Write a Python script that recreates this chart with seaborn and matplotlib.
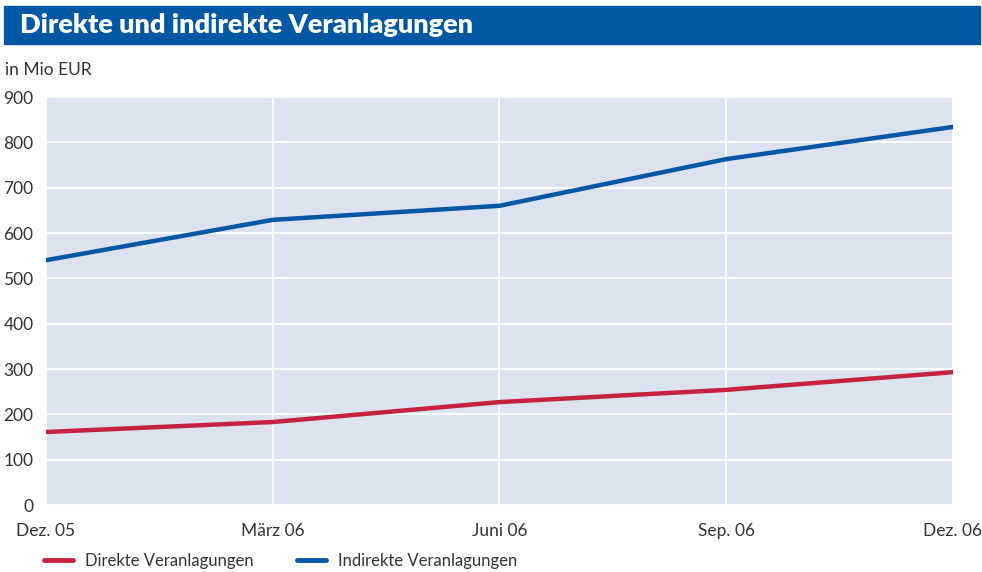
import pandas as pd
import numpy as np
import matplotlib.pyplot as plt
import seaborn as sns
from matplotlib.patches import Rectangle

# data
quarters = ['Dez. 05', 'März 06', 'Juni 06', 'Sep. 06', 'Dez. 06']
direkt = [161, 183, 227, 254, 293]
indirekt = [540, 629, 660, 763, 834]
series_names = ['Direkte Veranlagungen', 'Indirekte Veranlagungen']

df = pd.DataFrame({
    'quarter': list(range(len(quarters))) * 2,
    'value': direkt + indirekt,
    'series': [series_names[0]] * len(quarters) + [series_names[1]] * len(quarters),
})

sns.set_style('whitegrid', {'axes.facecolor': '#dce2ef', 'grid.color': 'white',
                            'axes.edgecolor': '#dce2ef'})
plt.rcParams['font.family'] = ['Lato', 'DejaVu Sans']

fig = plt.figure(figsize=(9.82, 5.72), dpi=100)
ax = fig.add_axes([46 / 982, 1 - 505 / 572, 907 / 982, 408 / 572])

sns.lineplot(data=df, x='quarter', y='value', hue='series', ax=ax,
             palette=['#c4223f', '#0057a3'], linewidth=3.2, legend=False)

ax.set_xlim(0, len(quarters) - 1)
ax.set_ylim(0, 900)
ax.set_yticks(np.arange(0, 901, 100))
ax.set_xticks(range(len(quarters)))
ax.set_xticklabels(quarters)
ax.set_xlabel('')
ax.set_ylabel('')
ax.grid(True, color='white', linewidth=1.3)
ax.tick_params(axis='both', length=0, labelsize=12.5, labelcolor='#333333')
ax.tick_params(axis='y', pad=9)
ax.tick_params(axis='x', pad=13)
for s in ax.spines.values():
    s.set_visible(False)

# title band
fig.patches.append(Rectangle((4 / 982, 1 - 44 / 572), 976 / 982, 38 / 572,
                             transform=fig.transFigure, color='#0057a3', zorder=0))
fig.text(20 / 982, 1 - 25 / 572, 'Direkte und indirekte Veranlagungen', color='white',
         fontsize=19.5, fontweight='heavy', va='center', ha='left')
fig.text(5 / 982, 1 - 70 / 572, 'in Mio EUR', fontsize=12.5, color='#333333', va='center')

# legend
handles = [plt.Line2D([], [], color=c, linewidth=3.5) for c in ['#c4223f', '#0057a3']]
fig.legend(handles, series_names, loc='center left', bbox_to_anchor=(44 / 982, 1 - 561 / 572),
           ncol=2, frameon=False, fontsize=12, handlelength=1.75, columnspacing=2.6,
           handletextpad=0.7, borderpad=0, borderaxespad=0, labelcolor='#333333')

fig.savefig('out.png', dpi=100)
